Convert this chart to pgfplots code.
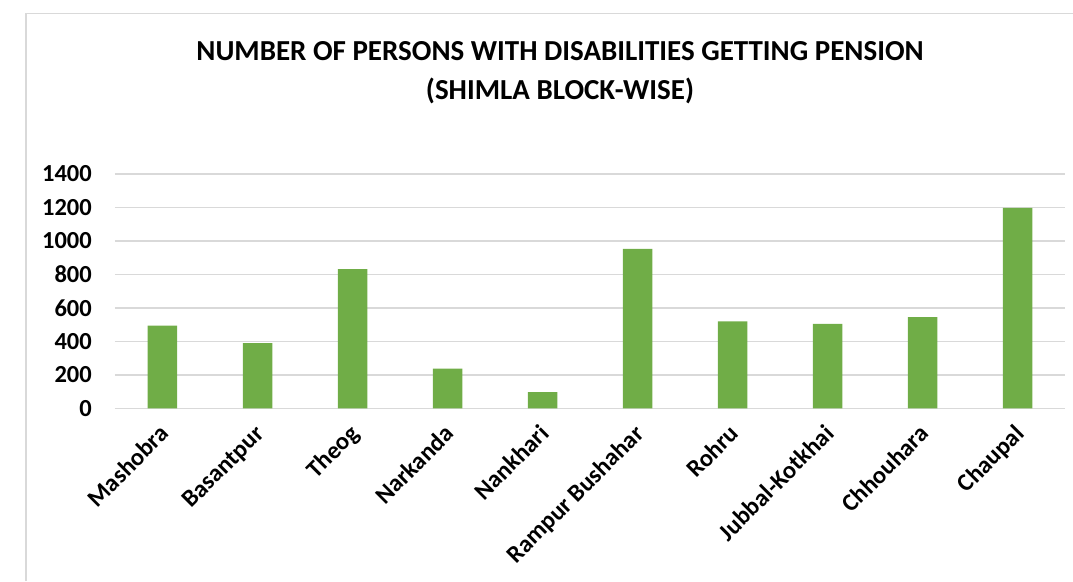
\documentclass[border=0pt]{standalone}
\usepackage{fontspec}
\setmainfont{Carlito}
\usepackage{pgfplots}
\pgfplotsset{compat=1.18}
\definecolor{barc}{HTML}{70AD47}
\definecolor{gridc}{HTML}{D9D9D9}
\begin{document}
\begin{tikzpicture}
\useasboundingbox (-115pt,-172.7pt) rectangle (958pt,408.3pt);
\draw[gridc, line width=1.2pt] (-89pt,-172.7pt) -- (-89pt,395pt) -- (958pt,395pt);
\begin{axis}[
  at={(0pt,0pt)}, anchor=south west,
  scale only axis, width=950pt, height=234.3pt,
  xmin=-0.5, xmax=9.5, ymin=0, ymax=1400,
  ytick={0,200,...,1400},
  xtick={0,...,9},
  xticklabels={Mashobra,Basantpur,Theog,Narkanda,Nankhari,Rampur Bushahar,Rohru,Jubbal-Kotkhai,Chhouhara,Chaupal},
  ymajorgrids, grid style={gridc, line width=1.5pt},
  axis line style={draw=none},
  major tick length=0pt,
  /pgf/number format/assume math mode=true,
  /pgf/number format/1000 sep={},
  tick label style={font=\fontsize{24.5}{28}\selectfont\bfseries},
  yticklabel style={anchor=east, inner sep=0pt, xshift=-23pt},
  xticklabel style={inner sep=0pt, text height=16pt, text depth=5pt, yshift=-23pt, xshift=4pt, rotate=45, anchor=east},
  clip=false,
]
\addplot[ybar, bar width=29.5pt, fill=barc, draw=none] coordinates {
(0,494) (1,390) (2,832) (3,237) (4,96) (5,952) (6,520) (7,504) (8,545) (9,1197)
};
\end{axis}
\node[font=\fontsize{29}{34}\selectfont\bfseries, anchor=base] at (445pt,347.3pt) {NUMBER OF PERSONS WITH DISABILITIES GETTING PENSION};
\node[font=\fontsize{29}{34}\selectfont\bfseries, anchor=base] at (445pt,308.3pt) {(SHIMLA BLOCK-WISE)};
\end{tikzpicture}
\end{document}
